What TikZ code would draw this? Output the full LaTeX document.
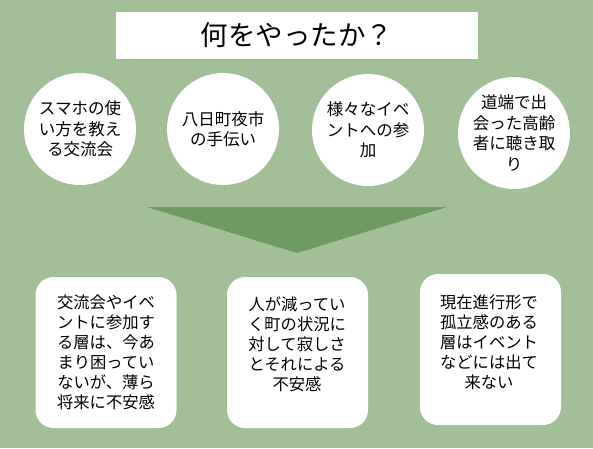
\documentclass[tikz,border=0pt]{standalone}
\usepackage{fontspec}
\newfontfamily\cjk{Noto Sans CJK JP}
\definecolor{bggreen}{HTML}{A3BF98}
\definecolor{trigreen}{HTML}{6E9C60}
\tikzset{
  circ/.style={circle, fill=white, draw=none, minimum size=112pt, inner sep=0pt},
  ctext/.style={align=center, inner sep=0pt, font=\cjk\fontsize{16.5}{20.5}\selectfont, text=black},
  boxshape/.style={rectangle, rounded corners=18pt, fill=white, draw=none, minimum width=141pt, minimum height=151pt, inner sep=0pt},
  btext/.style={align=center, inner sep=0pt, anchor=north, font=\cjk\fontsize{16.3}{20}\selectfont, text=black},
  titlebox/.style={rectangle, fill=white, draw=none, minimum width=362pt, minimum height=47pt, inner sep=0pt, font=\cjk\fontsize{27.5}{30}\selectfont, text=black}
}
\begin{document}
\begin{tikzpicture}[x=1pt,y=-1pt]
\fill[bggreen] (0,0) rectangle (593,448);
\useasboundingbox (0,0) rectangle (593,448);
% title
\node[titlebox] (title) at (297,35) {何をやったか？};
% circles
\node[circ] (c1) at (80,129) {};
\node[circ] (c2) at (223,129) {};
\node[circ] (c3) at (368,130) {};
\node[circ] (c4) at (514,133) {};
\node[ctext] (t1) at (c1.center) {スマホの使\\い方を教え\\る交流会};
\node[ctext] (t2) at (c2.center) {八日町夜市\\の手伝い};
\node[ctext] (t3) at (c3.center) {様々なイベ\\ントへの参\\加};
\node[ctext] (t4) at (c4.center) {道端で出\\会った高齢\\者に聴き取\\り};
% triangle
\fill[trigreen] (147,207) -- (447,207) -- (297,253) -- cycle;
% boxes
\node[boxshape] (b1) at (106,352.5) {};
\node[boxshape] (b2) at (297.5,352.5) {};
\node[boxshape] (b3) at (490.5,349.5) {};
\node[btext] (bt1) at (106,295) {交流会やイベ\\ントに参加す\\る層は、今あ\\まり困ってい\\ないが、薄ら\\将来に不安感};
\node[btext] (bt2) at (297,296) {人が減ってい\\く町の状況に\\対して寂しさ\\とそれによる\\不安感};
\node[btext] (bt3) at (489,295) {現在進行形で\\孤立感のある\\層はイベント\\などには出て\\来ない};
\end{tikzpicture}
\end{document}
